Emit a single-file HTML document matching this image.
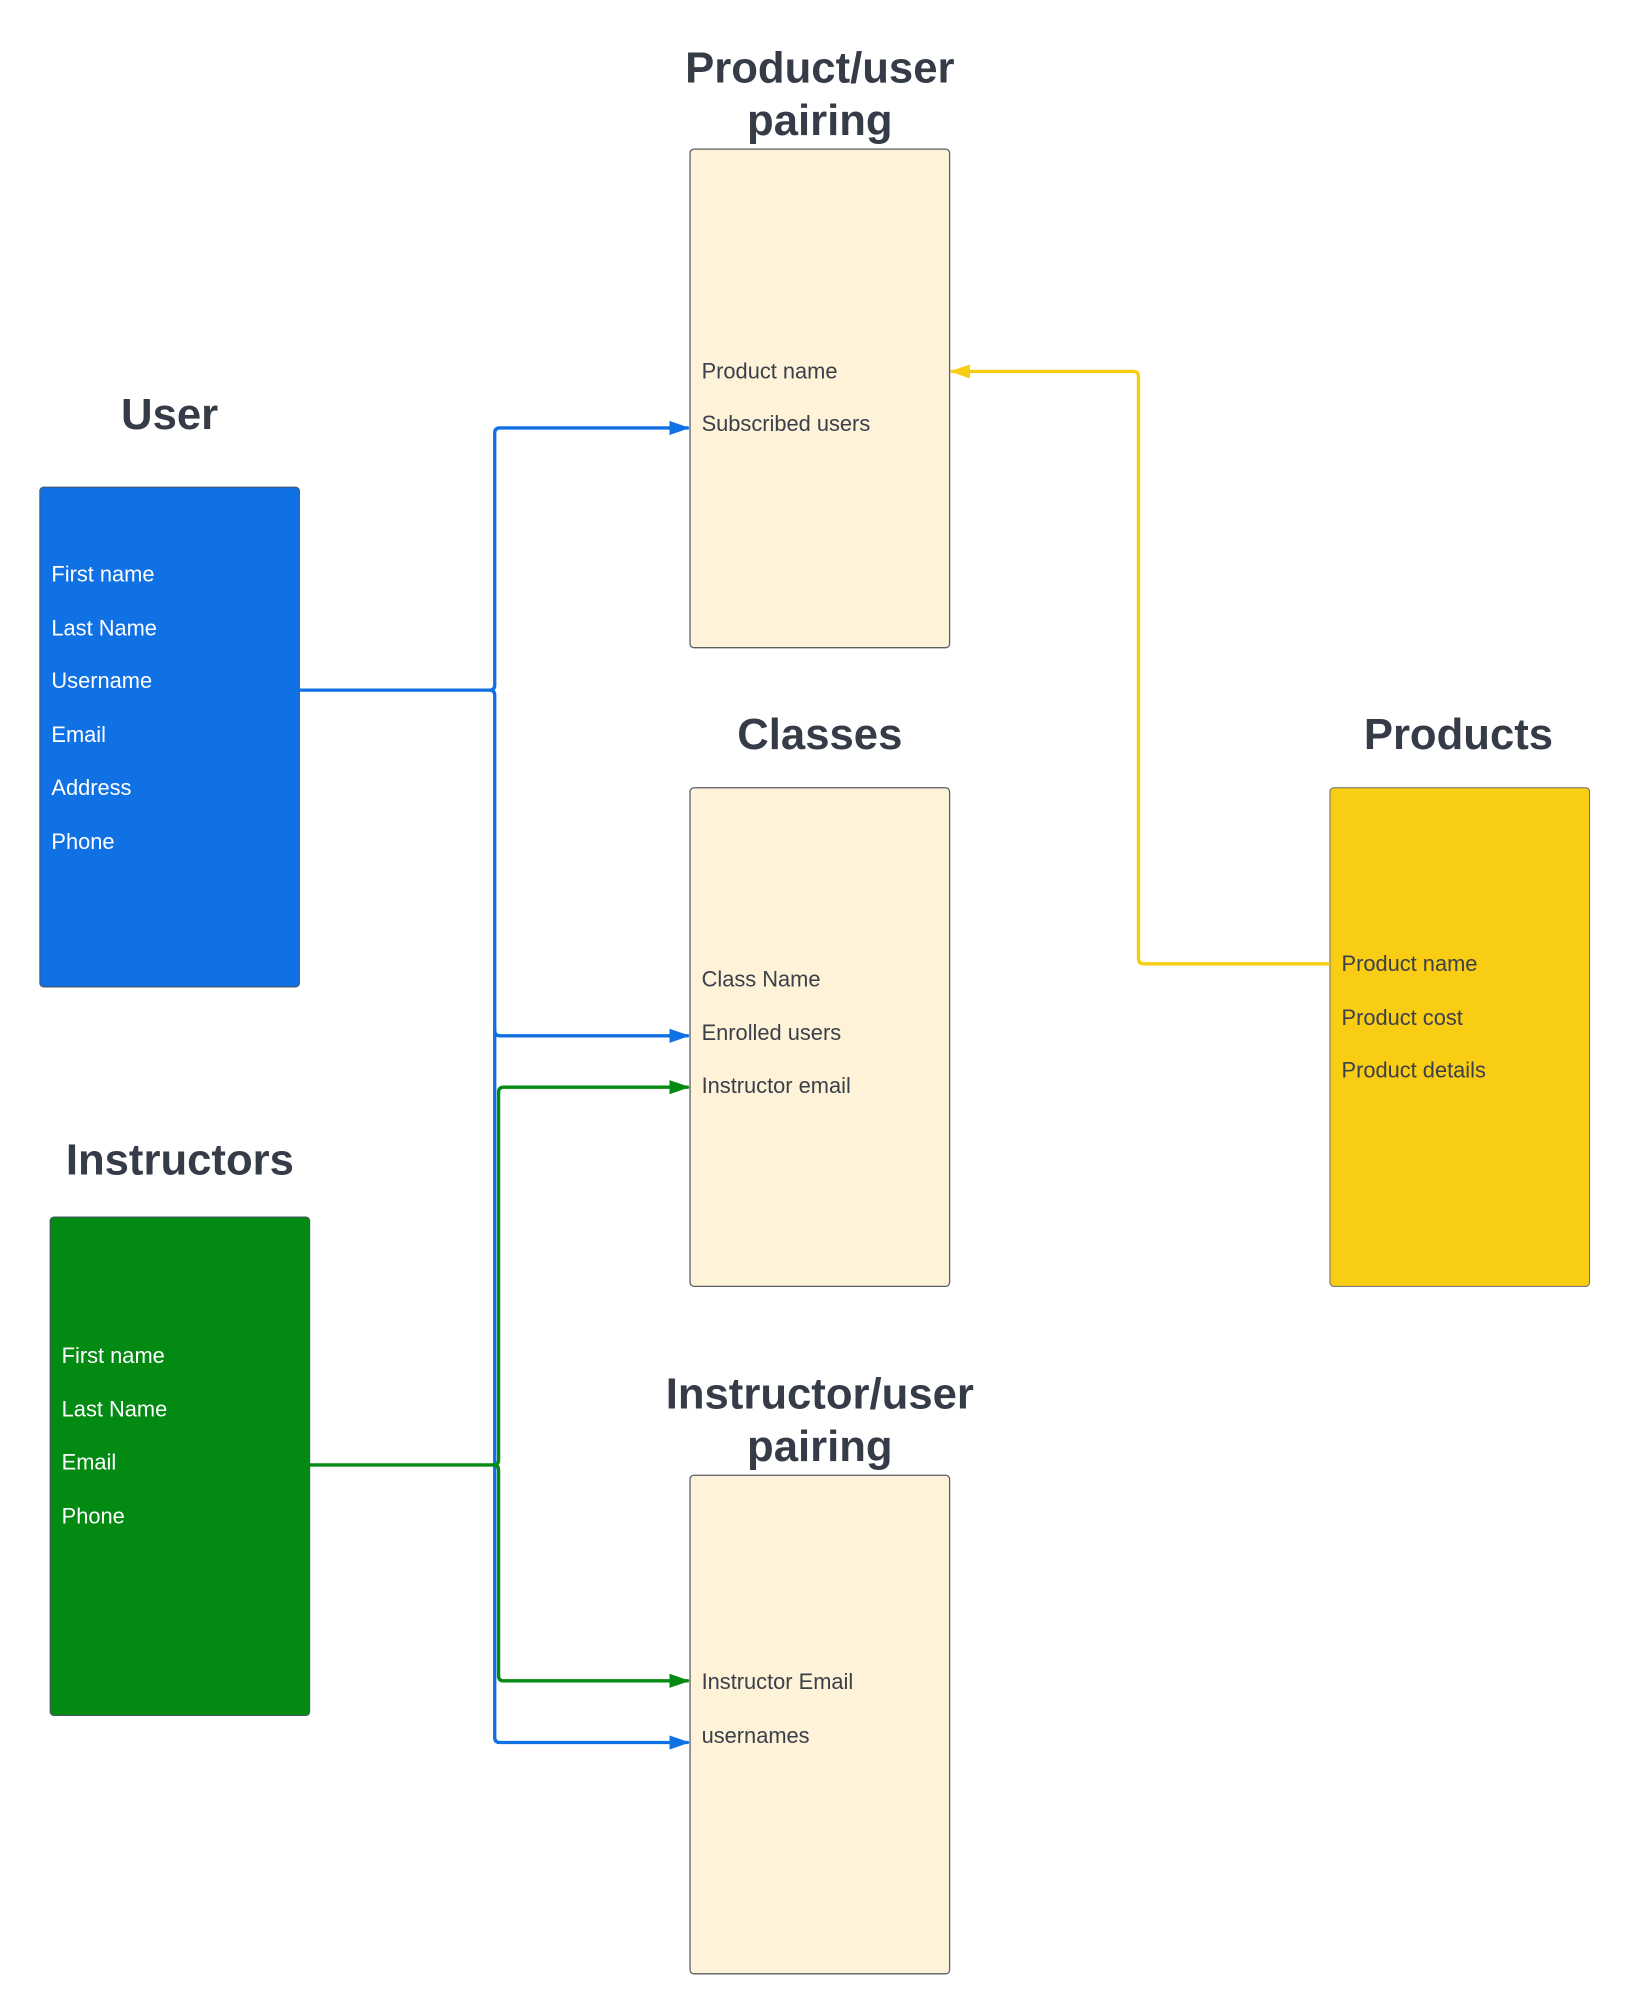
<!DOCTYPE html>
<html><head><meta charset="utf-8"><style>
html,body{margin:0;padding:0;background:#fff;}
svg{display:block;}
text{font-family:"Liberation Sans",Arial,sans-serif;}
.t{font-weight:bold;font-size:34px;fill:#363c47;text-anchor:middle;}
.d{font-size:17px;fill:#3a3f4a;dominant-baseline:middle;}
.w{font-size:17px;fill:#ffffff;dominant-baseline:middle;}
</style></head><body>
<svg width="1630" height="2015" viewBox="0 0 1268.5 1568" xmlns="http://www.w3.org/2000/svg">
<defs>
<marker id="ab" markerWidth="16" markerHeight="11" refX="15" refY="5.5" orient="auto" markerUnits="userSpaceOnUse"><path d="M0,0 L16,5.5 L0,11 z" fill="#1071e5"/></marker>
<marker id="ag" markerWidth="16" markerHeight="11" refX="15" refY="5.5" orient="auto" markerUnits="userSpaceOnUse"><path d="M0,0 L16,5.5 L0,11 z" fill="#038a12"/></marker>
<marker id="ay" markerWidth="16" markerHeight="11" refX="15" refY="5.5" orient="auto" markerUnits="userSpaceOnUse"><path d="M0,0 L16,5.5 L0,11 z" fill="#facd15"/></marker>
</defs>

<text class="t" x="638" y="64">Product/user</text>
<text class="t" x="638" y="105">pairing</text>
<text class="t" x="132" y="334">User</text>
<text class="t" x="638" y="583">Classes</text>
<text class="t" x="1135" y="583">Products</text>
<text class="t" x="140" y="914">Instructors</text>
<text class="t" x="638" y="1096">Instructor/user</text>
<text class="t" x="638" y="1137">pairing</text>

<rect x="537" y="116" width="202" height="388" rx="3" fill="#fef2d8" stroke="#5a5f66" stroke-width="1"/>
<rect x="537" y="613" width="202" height="388" rx="3" fill="#fef2d8" stroke="#5a5f66" stroke-width="1"/>
<rect x="537" y="1148" width="202" height="388" rx="3" fill="#fef2d8" stroke="#5a5f66" stroke-width="1"/>
<rect x="31" y="379" width="202" height="389" rx="3" fill="#1071e5" stroke="#4a5568" stroke-width="0.8"/>
<rect x="39" y="947" width="202" height="388" rx="3" fill="#038a12" stroke="#4a5568" stroke-width="0.8"/>
<rect x="1035" y="613" width="202" height="388" rx="3" fill="#facd15" stroke="#6a6a6a" stroke-width="0.8"/>

<g fill="none" stroke-width="2.6" stroke-linejoin="round">
<path d="M233,537 H381 Q385,537 385,533 V337 Q385,333 389,333 H536" stroke="#1071e5" marker-end="url(#ab)"/>
<path d="M381,537 Q385,537 385,541 V802 Q385,806 389,806 H536" stroke="#1071e5" marker-end="url(#ab)"/>
<path d="M385,800 V1352 Q385,1356 389,1356 H536" stroke="#1071e5" marker-end="url(#ab)"/>
<path d="M241,1140 H384 Q388,1140 388,1136 V850 Q388,846 392,846 H536" stroke="#038a12" marker-end="url(#ag)"/>
<path d="M384,1140 Q388,1140 388,1144 V1304 Q388,1308 392,1308 H536" stroke="#038a12" marker-end="url(#ag)"/>
<path d="M1035,750 H890 Q886,750 886,746 V293 Q886,289 882,289 H740" stroke="#facd15" marker-end="url(#ay)"/>
</g>

<text class="d" x="546" y="290">Product name</text>
<text class="d" x="546" y="331">Subscribed users</text>
<text class="w" x="40" y="448">First name</text>
<text class="w" x="40" y="490">Last Name</text>
<text class="w" x="40" y="531">Username</text>
<text class="w" x="40" y="573">Email</text>
<text class="w" x="40" y="614">Address</text>
<text class="w" x="40" y="656">Phone</text>
<text class="d" x="546" y="763">Class Name</text>
<text class="d" x="546" y="805">Enrolled users</text>
<text class="d" x="546" y="846">Instructor email</text>
<text class="d" x="1044" y="751">Product name</text>
<text class="d" x="1044" y="793">Product cost</text>
<text class="d" x="1044" y="834">Product details</text>
<text class="w" x="48" y="1056">First name</text>
<text class="w" x="48" y="1098">Last Name</text>
<text class="w" x="48" y="1139">Email</text>
<text class="w" x="48" y="1181">Phone</text>
<text class="d" x="546" y="1310">Instructor Email</text>
<text class="d" x="546" y="1352">usernames</text>
</svg>
</body></html>
